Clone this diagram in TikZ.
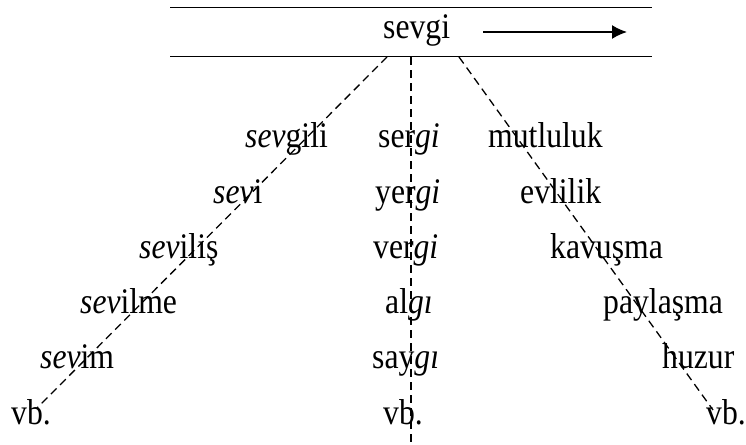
\documentclass[tikz,border=0pt]{standalone}
\usepackage{fontspec}
\setmainfont[FakeStretch=0.88]{Liberation Serif}
\usetikzlibrary{arrows.meta}
\begin{document}
\begin{tikzpicture}[x=1pt,y=-1pt,
  word/.style={anchor=base west,inner sep=0pt,font=\fontsize{36}{42}\selectfont},
  rule/.style={line width=1.6pt},
  guide/.style={line width=1.3pt,dash pattern=on 8pt off 5pt}]
\useasboundingbox (0,0) rectangle (746,444);

% header band
\coordinate (ruleTL) at (170,7.5);
\coordinate (ruleTR) at (652,7.5);
\coordinate (ruleBL) at (170,56.5);
\coordinate (ruleBR) at (652,56.5);
\draw[rule] (ruleTL) -- (ruleTR);
\draw[rule] (ruleBL) -- (ruleBR);
\node[word] (root) at (383,38) {sevgi};
\coordinate (arrS) at (483,32);
\coordinate (arrE) at (627,32);
\draw[rule,-{Latex[length=15pt,width=14pt]}] (arrS) -- (arrE);

% left column: sev- derivations
\node[word] (a1) at (245,147) {\textit{sev}gili};
\node[word] (a2) at (213,203) {\textit{sev}i};
\node[word] (a3) at (139,258) {\textit{sev}iliş};
\node[word] (a4) at (80,313) {\textit{sev}ilme};
\node[word] (a5) at (40,368) {\textit{sev}im};
\node[word] (a6) at (11,424) {vb.};

% middle column: -gi / -gı words
\node[word] (b1) at (378,147) {ser\textit{gi}};
\node[word] (b2) at (375,203) {yer\textit{gi}};
\node[word] (b3) at (373,258) {ver\textit{gi}};
\node[word] (b4) at (385,313) {al\textit{gı}};
\node[word] (b5) at (372,368) {say\textit{gı}};
\node[word] (b6) at (383,424) {vb.};

% right column: related meanings
\node[word] (c1) at (488,147) {mutluluk};
\node[word] (c2) at (520,203) {evlilik};
\node[word] (c3) at (550,258) {kavuşma};
\node[word] (c4) at (603,313) {paylaşma};
\node[word] (c5) at (662,368) {huzur};
\node[word] (c6) at (706,424) {vb.};

% dashed guides from the band
\coordinate (gL0) at (387,57);
\coordinate (gM0) at (411,57);
\coordinate (gR0) at (459,57);
\coordinate (gL1) at (37,408);
\coordinate (gM1) at (411,444);
\coordinate (gR1) at (713,410);
\draw[guide] (gL0) -- (gL1);
\draw[guide] (gM0) -- (gM1);
\draw[guide] (gR0) -- (gR1);
\end{tikzpicture}
\end{document}
